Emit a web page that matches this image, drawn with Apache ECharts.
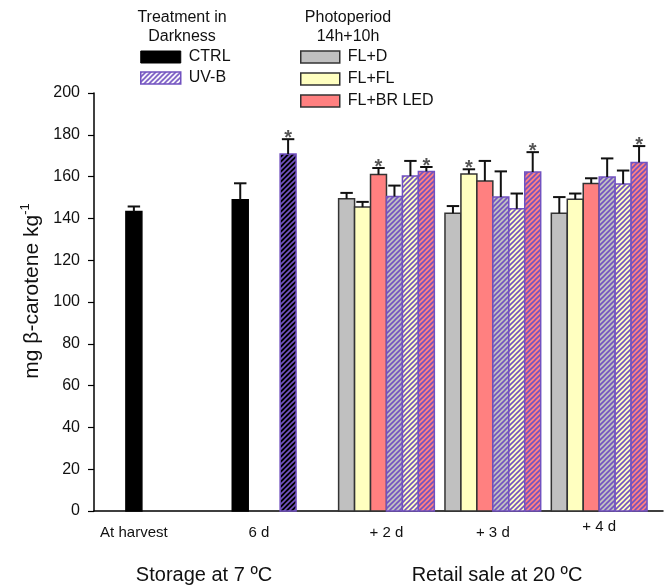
<!DOCTYPE html>
<html><head><meta charset="utf-8">
<script src="https://cdn.jsdelivr.net/npm/echarts@6/dist/echarts.min.js"></script>
<style>html,body{margin:0;padding:0;background:#fff}#c{width:667px;height:588px}</style>
</head><body><div id="c"></div>
<script>
// ---------------- data ----------------
const categories = ['At harvest', '6 d', '+ 2 d', '+ 3 d', '+ 4 d'];
// darkness (At harvest, 6 d)
const ctrlMean = [143.3, 148.9];
const ctrlErr  = [2.4, 7.9];
const ctrlSig  = [0, 0];
const uvbMean  = [null, 170.8];
const uvbErr   = [null, 7.1];
const uvbSig   = [0, 1];
// retail sale (+2 d, +3 d, +4 d)
const flDMean    = [149.4, 142.5, 142.5];
const flDErr     = [2.8, 3.4, 7.7];
const flDSig     = [0, 0, 0];
const flFLMean   = [145.4, 161.3, 149.2];
const flFLErr    = [2.5, 2.2, 2.7];
const flFLSig    = [0, 1, 0];
const flBRMean   = [161.0, 157.9, 156.7];
const flBRErr    = [3.1, 9.6, 2.5];
const flBRSig    = [1, 0, 0];
const uvFlDMean  = [150.5, 150.2, 159.8];
const uvFlDErr   = [5.2, 12.3, 8.9];
const uvFlDSig   = [0, 0, 0];
const uvFlFLMean = [160.3, 144.6, 156.5];
const uvFlFLErr  = [7.2, 7.3, 6.4];
const uvFlFLSig  = [0, 0, 0];
const uvFlBRMean = [162.5, 162.2, 166.8];
const uvFlBRErr  = [2.1, 9.5, 7.8];
const uvFlBRSig  = [1, 1, 1];
const yTicks = [0, 20, 40, 60, 80, 100, 120, 140, 160, 180, 200];

// ---------------- layout (slot units on a hidden value scale) ----------------
const BAR = 3;                       // bar width in slots
const AXIS_MAX = 107;
const darkStart = { ctrl: [6, 26], uvb: [null, 35] };
const retailStart = g => 46 + 20 * g;   // first bar of each retail group
const labelPos = [7.5, 31, 55, 75, 95];

const PURPLE = '#7252c0';
const FONT = 'Liberation Sans, Arial, sans-serif';

function hatch(bg, line) {
  const n = 5;
  const c = document.createElement('canvas');
  c.width = n; c.height = n;
  const g = c.getContext('2d');
  g.fillStyle = bg; g.fillRect(0, 0, n, n);
  g.strokeStyle = line; g.lineWidth = 1.6;
  g.beginPath();
  g.moveTo(0, n); g.lineTo(n, 0);
  g.moveTo(-1, 1); g.lineTo(1, -1);
  g.moveTo(n - 1, n + 1); g.lineTo(n + 1, n - 1);
  g.stroke();
  return { image: c, repeat: 'repeat' };
}

function renderer(fill, stroke) {
  return function (params, api) {
    const x0 = api.value(0), v = api.value(1), e = api.value(2), s = api.value(3);
    const pBase = api.coord([x0, 0]);
    const pTop = api.coord([x0 + BAR, v]);
    const pm = api.coord([x0 + BAR / 2, v]);
    const pe = api.coord([x0 + BAR / 2, v + e]);
    const w = pTop[0] - pBase[0];
    const cap = w * 0.78;
    const ch = [
      { type: 'rect', shape: { x: pBase[0], y: pTop[1], width: w, height: pBase[1] - pTop[1] },
        style: { fill: fill, stroke: stroke, lineWidth: 1.5 } },
      { type: 'line', shape: { x1: pm[0], y1: pm[1], x2: pe[0], y2: pe[1] },
        style: { stroke: '#111', lineWidth: 2 } },
      { type: 'line', shape: { x1: pe[0] - cap / 2, y1: pe[1], x2: pe[0] + cap / 2, y2: pe[1] },
        style: { stroke: '#111', lineWidth: 2 } }
    ];
    if (s) ch.push({ type: 'text', x: pe[0], y: pe[1] + 9,
      style: { text: '*', fill: '#555', font: 'bold 20px ' + FONT, align: 'center', verticalAlign: 'bottom' } });
    return { type: 'group', children: ch };
  };
}

function darkData(means, errs, sigs, starts) {
  const out = [];
  means.forEach((m, i) => { if (m != null) out.push([starts[i], m, errs[i], sigs[i]]); });
  return out;
}
function retailData(means, errs, sigs, j) {
  return means.map((m, g) => [retailStart(g) + BAR * j, m, errs[g], sigs[g]]);
}

const fills = {
  ctrl: '#000000', uvb: hatch('#000000', PURPLE),
  flD: '#c0c0c0', flFL: '#ffffc0', flBR: '#ff8080',
  uvFlD: hatch('#c0c0c0', PURPLE), uvFlFL: hatch('#ffffc0', PURPLE), uvFlBR: hatch('#ff8080', PURPLE)
};

function cs(name, data, fill, stroke, legendFill, legendStroke) {
  return {
    type: 'custom', name: name, data: data,
    renderItem: renderer(fill, stroke),
    itemStyle: { color: legendFill || fill, borderColor: legendStroke || stroke, borderWidth: 1.5 },
    encode: { x: 0, y: [1, 2] }
  };
}

const series = [
  cs('CTRL', darkData(ctrlMean, ctrlErr, ctrlSig, darkStart.ctrl), fills.ctrl, '#000'),
  cs('UV-B', darkData(uvbMean, uvbErr, uvbSig, darkStart.uvb), fills.uvb, PURPLE, hatch('#ffffff', PURPLE), PURPLE),
  cs('FL+D', retailData(flDMean, flDErr, flDSig, 0), fills.flD, '#333'),
  cs('FL+FL', retailData(flFLMean, flFLErr, flFLSig, 1), fills.flFL, '#333'),
  cs('FL+BR LED', retailData(flBRMean, flBRErr, flBRSig, 2), fills.flBR, '#333'),
  cs('UV-B FL+D', retailData(uvFlDMean, uvFlDErr, uvFlDSig, 3), fills.uvFlD, PURPLE),
  cs('UV-B FL+FL', retailData(uvFlFLMean, uvFlFLErr, uvFlFLSig, 4), fills.uvFlFL, PURPLE),
  cs('UV-B FL+BR LED', retailData(uvFlBRMean, uvFlBRErr, uvFlBRSig, 5), fills.uvFlBR, PURPLE)
];

const legendText = { fontFamily: FONT, fontSize: 16, color: '#111', padding: [0, 0, 0, 3] };
const chart = echarts.init(document.getElementById('c'), null, { renderer: 'canvas' });
chart.setOption({
  animation: false,
  backgroundColor: '#fff',
  grid: { left: 94, right: 4, top: 93, bottom: 77 },
  xAxis: {
    type: 'value', min: 0, max: AXIS_MAX,
    axisLine: { show: true, lineStyle: { color: '#000', width: 1.5 } },
    axisTick: { show: false },
    splitLine: { show: false },
    axisLabel: {
      customValues: labelPos,
      formatter: v => {
        const i = labelPos.indexOf(v);
        if (i < 0) return '';
        return (i === 4 ? '{u|' : '{n|') + categories[i] + '}';
      },
      margin: 8,
      rich: {
        n: { fontFamily: FONT, fontSize: 15, color: '#111', padding: [6, 0, 0, 0] },
        u: { fontFamily: FONT, fontSize: 15, color: '#111', padding: [0, 0, 6, 0] }
      }
    }
  },
  yAxis: {
    type: 'value', min: yTicks[0], max: yTicks[yTicks.length - 1], interval: 20,
    axisLine: { show: true, lineStyle: { color: '#000', width: 1.5 } },
    axisTick: { show: true, inside: false, length: 6, lineStyle: { color: '#000', width: 1.2 } },
    splitLine: { show: false },
    axisLabel: { fontFamily: FONT, fontSize: 16, color: '#111', margin: 14 },
    name: '{a|mg β-carotene kg}{s|-1}',
    nameLocation: 'middle', nameRotate: 90, nameGap: 46,
    nameTextStyle: {
      padding: [0, 0, 0, 22],
      rich: {
        a: { fontFamily: FONT, fontSize: 21, color: '#111', lineHeight: 26 },
        s: { fontFamily: FONT, fontSize: 13, color: '#111', verticalAlign: 'top', lineHeight: 26 }
      }
    }
  },
  legend: [
    {
      orient: 'vertical', left: 140, top: 49, padding: 0, icon: 'rect',
      itemWidth: 40, itemHeight: 12, itemGap: 5,
      textStyle: legendText, selectedMode: false,
      data: [
        { name: 'CTRL', itemStyle: { color: '#000', borderColor: '#000', borderWidth: 1 } },
        { name: 'UV-B', itemStyle: { color: hatch('#ffffff', PURPLE), borderColor: PURPLE, borderWidth: 1.5 } }
      ]
    },
    {
      orient: 'vertical', left: 300, top: 49, padding: 0, icon: 'rect',
      itemWidth: 39, itemHeight: 12, itemGap: 6,
      textStyle: legendText, selectedMode: false,
      data: [
        { name: 'FL+D', itemStyle: { color: '#c0c0c0', borderColor: '#333', borderWidth: 1.5 } },
        { name: 'FL+FL', itemStyle: { color: '#ffffc0', borderColor: '#333', borderWidth: 1.5 } },
        { name: 'FL+BR LED', itemStyle: { color: '#ff8080', borderColor: '#333', borderWidth: 1.5 } }
      ]
    }
  ],
  graphic: [
    { type: 'text', x: 182, y: 8, style: { text: 'Treatment in\nDarkness', align: 'center', verticalAlign: 'top',
      font: '16px ' + FONT, lineHeight: 19, fill: '#111' } },
    { type: 'text', x: 348, y: 8, style: { text: 'Photoperiod\n14h+10h', align: 'center', verticalAlign: 'top',
      font: '16px ' + FONT, lineHeight: 19, fill: '#111' } },
    { type: 'text', x: 204, y: 575, style: { text: 'Storage at 7 ºC', align: 'center', verticalAlign: 'middle',
      font: '20px ' + FONT, fill: '#111' } },
    { type: 'text', x: 497, y: 575, style: { text: 'Retail sale at 20 ºC', align: 'center', verticalAlign: 'middle',
      font: '20px ' + FONT, fill: '#111' } }
  ],
  series: series
});
</script>
</body></html>
